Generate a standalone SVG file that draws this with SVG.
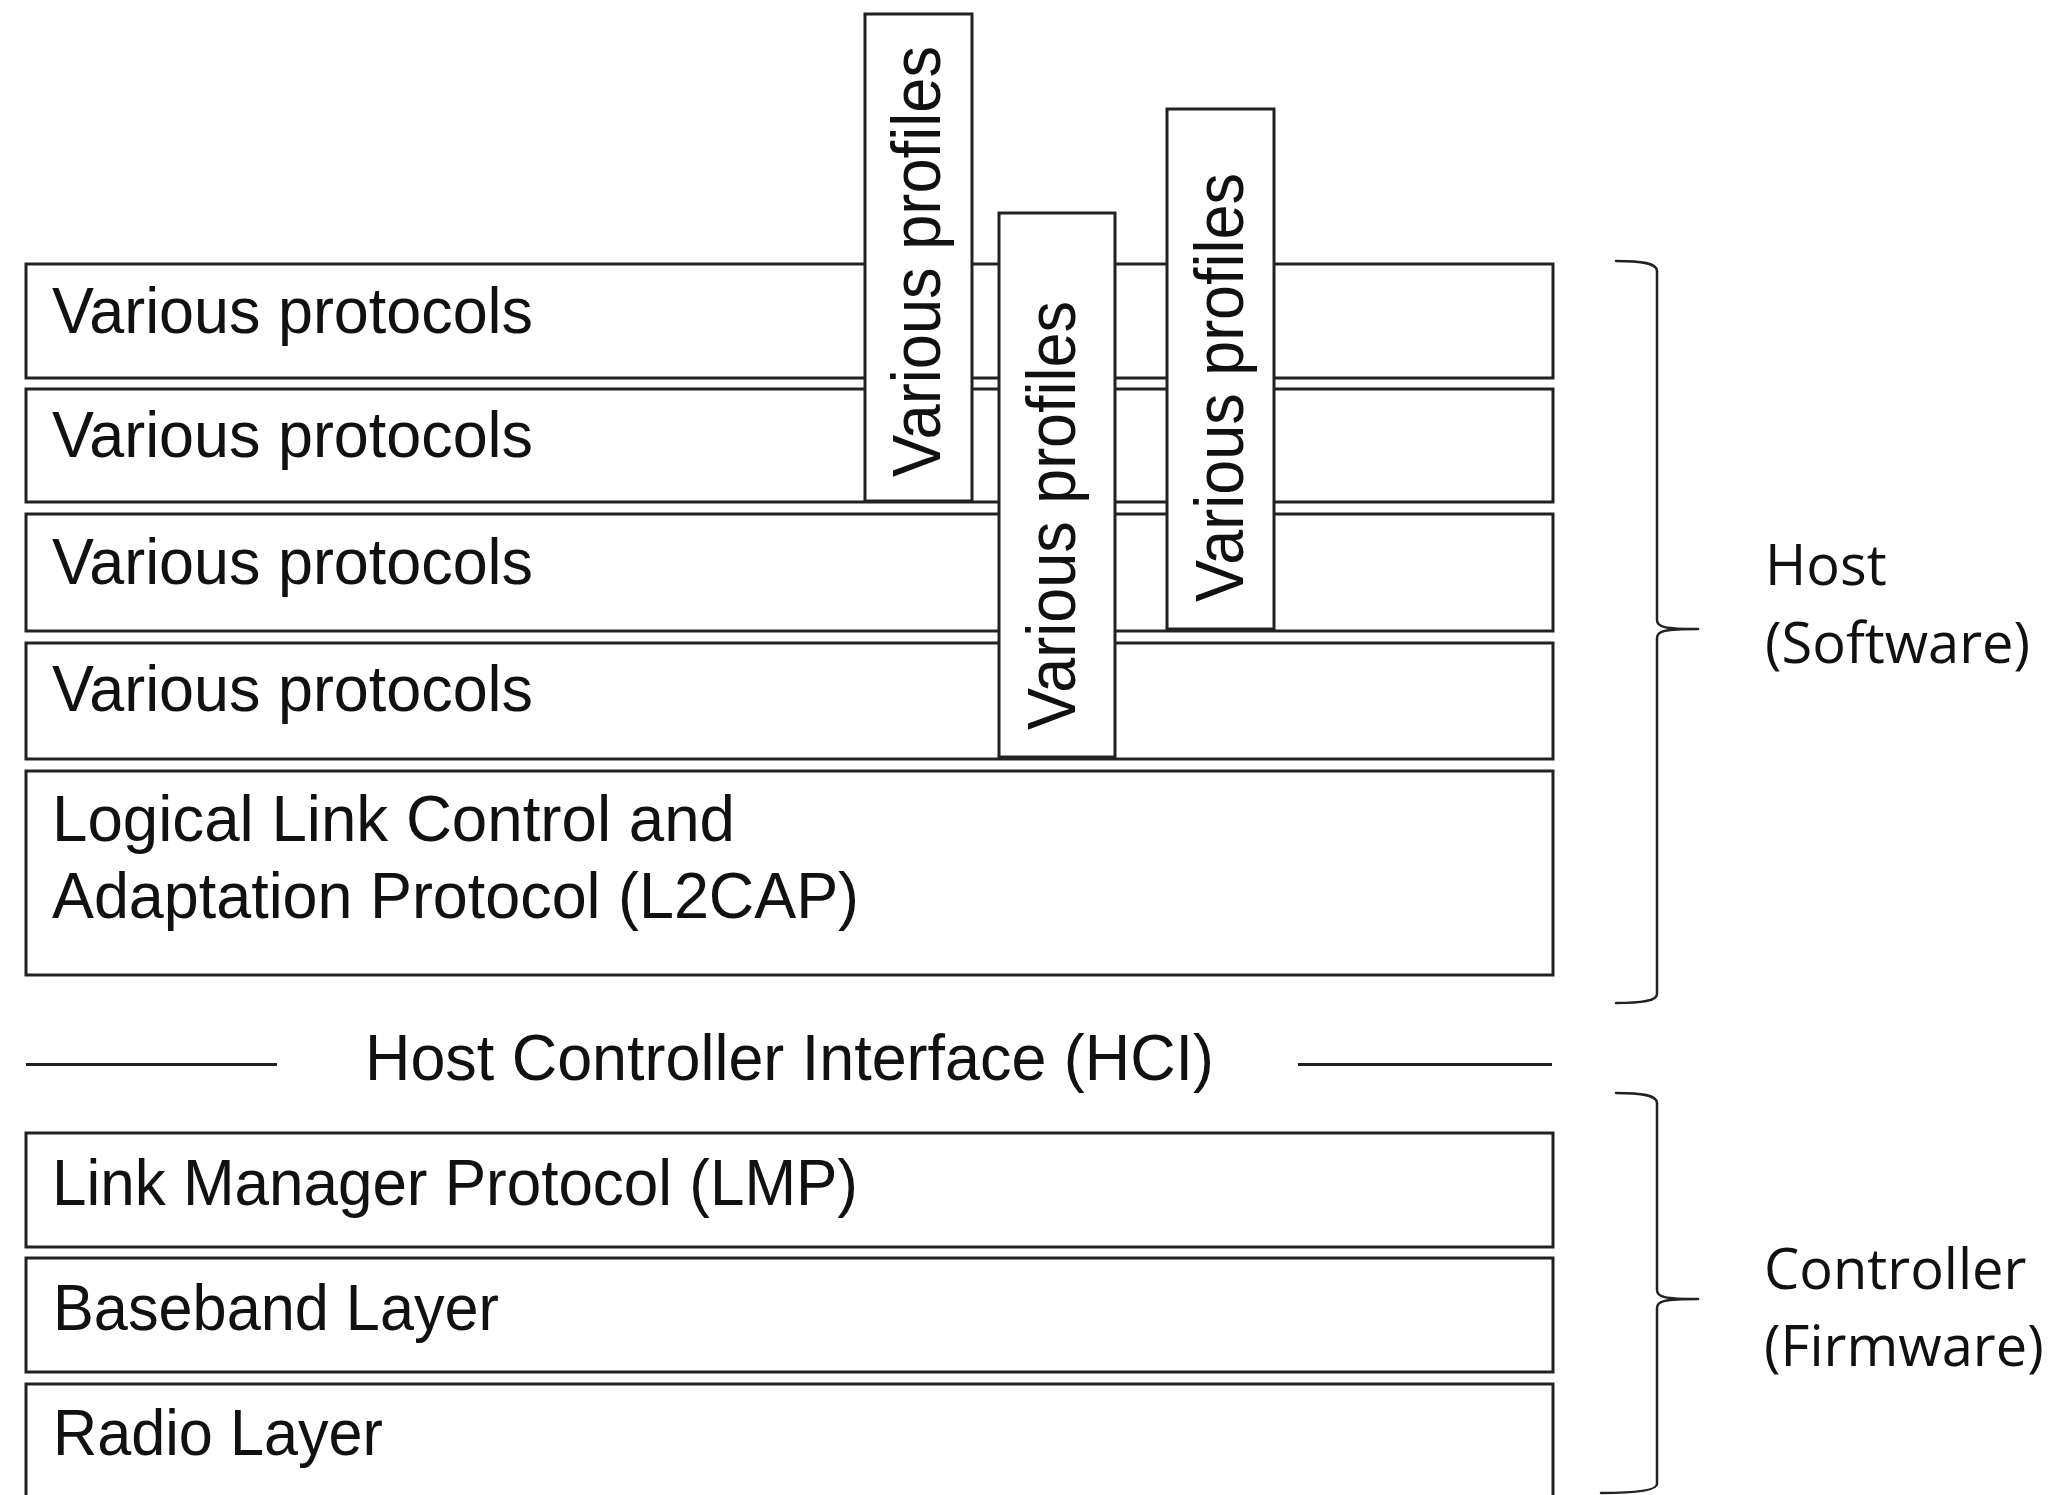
<svg xmlns="http://www.w3.org/2000/svg" width="2065" height="1495" viewBox="0 0 2065 1495">
  <style>
    .box { fill: #ffffff; stroke: #222222; stroke-width: 3; }
    .lbl { font-family: "Liberation Sans", Arial, sans-serif; font-size: 64px; fill: #111111; }
    .prof { font-family: "Liberation Sans", Arial, sans-serif; font-size: 68px; fill: #111111; }
    .side { font-family: "Open Sans", "Liberation Sans", sans-serif; font-size: 56px; fill: #111111; }
    .line { fill: none; stroke: #222222; stroke-width: 3; }
    .brace { fill: none; stroke: #222222; stroke-width: 2.5; stroke-linecap: round; stroke-linejoin: round; }
  </style>
  <rect x="0" y="0" width="2065" height="1495" fill="#ffffff"/>

  <g id="protocols1">
    <rect class="box" x="26" y="264" width="1527" height="114"/>
    <text class="lbl" x="52" y="333" textLength="481" lengthAdjust="spacingAndGlyphs">Various protocols</text>
  </g>
  <g id="protocols2">
    <rect class="box" x="26" y="389" width="1527" height="113"/>
    <text class="lbl" x="52" y="457" textLength="481" lengthAdjust="spacingAndGlyphs">Various protocols</text>
  </g>
  <g id="protocols3">
    <rect class="box" x="26" y="514" width="1527" height="117"/>
    <text class="lbl" x="52" y="584" textLength="481" lengthAdjust="spacingAndGlyphs">Various protocols</text>
  </g>
  <g id="protocols4">
    <rect class="box" x="26" y="643" width="1527" height="116"/>
    <text class="lbl" x="52" y="711" textLength="481" lengthAdjust="spacingAndGlyphs">Various protocols</text>
  </g>
  <g id="l2cap">
    <rect class="box" x="26" y="771" width="1527" height="204"/>
    <text class="lbl" x="52" y="841" textLength="683" lengthAdjust="spacingAndGlyphs">Logical Link Control and</text>
    <text class="lbl" x="52" y="918" textLength="807" lengthAdjust="spacingAndGlyphs">Adaptation Protocol (L2CAP)</text>
  </g>

  <g id="profiles1">
    <rect class="box" x="865" y="14" width="107" height="487"/>
    <text class="prof" transform="translate(940,477) rotate(-90)" x="0" y="0" textLength="431" lengthAdjust="spacingAndGlyphs">Various profiles</text>
  </g>
  <g id="profiles2">
    <rect class="box" x="999" y="213" width="116" height="544"/>
    <text class="prof" transform="translate(1075,730) rotate(-90)" x="0" y="0" textLength="429" lengthAdjust="spacingAndGlyphs">Various profiles</text>
  </g>
  <g id="profiles3">
    <rect class="box" x="1167" y="109" width="107" height="520"/>
    <text class="prof" transform="translate(1243,602) rotate(-90)" x="0" y="0" textLength="429" lengthAdjust="spacingAndGlyphs">Various profiles</text>
  </g>

  <g id="hci">
    <text class="lbl" x="365" y="1080" textLength="849" lengthAdjust="spacingAndGlyphs">Host Controller Interface (HCI)</text>
  </g>

  <g id="lmp">
    <rect class="box" x="26" y="1133" width="1527" height="114"/>
    <text class="lbl" x="52" y="1205" textLength="806" lengthAdjust="spacingAndGlyphs">Link Manager Protocol (LMP)</text>
  </g>
  <g id="baseband">
    <rect class="box" x="26" y="1258" width="1527" height="114"/>
    <text class="lbl" x="53" y="1330" textLength="446" lengthAdjust="spacingAndGlyphs">Baseband Layer</text>
  </g>
  <g id="radio">
    <rect class="box" x="26" y="1384" width="1527" height="125"/>
    <text class="lbl" x="53" y="1455" textLength="330" lengthAdjust="spacingAndGlyphs">Radio Layer</text>
  </g>

  <g id="host-label">
    <text class="side" x="1765" y="585">Host</text>
    <text class="side" x="1765" y="663">(Software)</text>
  </g>
  <g id="controller-label">
    <text class="side" x="1764" y="1289">Controller</text>
    <text class="side" x="1764" y="1366">(Firmware)</text>
  </g>

  <g id="connectors">
    <line class="line" x1="26" y1="1064.5" x2="277" y2="1064.5"/>
    <line class="line" x1="1298" y1="1064.5" x2="1552" y2="1064.5"/>
    <path class="brace" d="M1616,261 C1642,261 1657,263 1657,271 L1657,620 C1657,627 1664,629 1698,629 C1664,629 1657,631 1657,638 L1657,994 C1657,1001 1642,1003 1616,1003"/>
    <path class="brace" d="M1616,1093 C1642,1093 1657,1095 1657,1103 L1657,1290 C1657,1297 1664,1299 1698,1299 C1664,1299 1657,1301 1657,1308 L1657,1484 C1657,1491 1632,1493 1601,1493"/>
  </g>
</svg>
